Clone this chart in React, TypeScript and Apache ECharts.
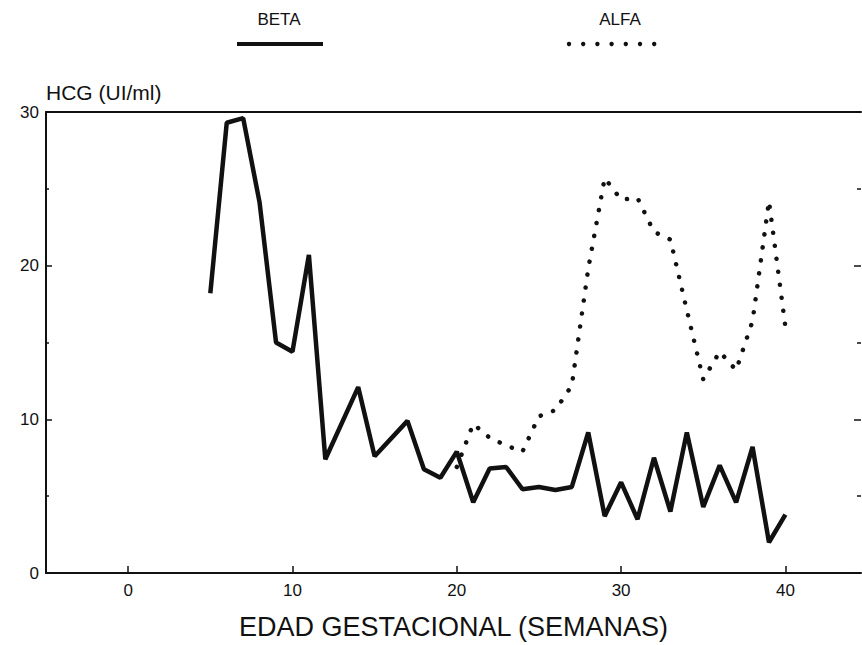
import React, { useEffect, useRef } from "react";
import * as echarts from "echarts";

// ---- data ----
const betaWeeks = [5, 6, 7, 8, 9, 10, 11, 12, 14, 15, 17, 18, 19, 20, 21, 22, 23, 24, 25, 26, 27, 28, 29, 30, 31, 32, 33, 34, 35, 36, 37, 38, 39, 40];
const betaValues = [18.2, 29.3, 29.6, 24.1, 15.0, 14.4, 20.7, 7.4, 12.1, 7.6, 9.9, 6.75, 6.2, 7.9, 4.6, 6.8, 6.9, 5.45, 5.6, 5.4, 5.6, 9.15, 3.7, 5.9, 3.5, 7.5, 4.0, 9.15, 4.3, 7.0, 4.6, 8.2, 2.0, 3.8];

const alfaWeeks = [20, 21, 22, 23, 24, 25, 26, 27, 28, 29, 30, 31, 32, 33, 34, 35, 36, 37, 38, 39, 40];
const alfaValues = [6.9, 9.7, 8.8, 8.3, 7.9, 10.2, 10.6, 12.2, 19.8, 25.7, 24.3, 24.4, 22.2, 21.7, 17.1, 12.6, 14.4, 13.2, 16.4, 24.2, 16.0];

const xTickValues = [0, 10, 20, 30, 40];

const xTitle = "EDAD GESTACIONAL (SEMANAS)";
const yTitle = "HCG (UI/ml)";
const legendBeta = "BETA";
const legendAlfa = "ALFA";

const FONT = "Liberation Sans, Arial, sans-serif";
const INK = "#111";

export default function App() {
  const ref = useRef<HTMLDivElement>(null);

  useEffect(() => {
    if (!ref.current) return;
    const chart = echarts.init(ref.current, undefined, { renderer: "svg" });

    const solid = (width: number) => ({ color: INK, width, type: "solid" as const });

    const legendDots = [0, 1, 2, 3, 4, 5, 6].map((i) => ({
      type: "circle",
      shape: { cx: 569 + i * 14.2, cy: 44, r: 2.2 },
      style: { fill: INK },
    }));

    chart.setOption({
      animation: false,
      grid: { left: 46, right: 1, top: 112, bottom: 71 },
      xAxis: [
        {
          type: "value",
          min: -5,
          max: 44.6,
          position: "bottom",
          splitLine: { show: false },
          axisLine: { show: true, onZero: false, lineStyle: solid(2) },
          axisTick: { show: true, inside: true, length: 7, customValues: xTickValues, lineStyle: solid(1.5) },
          axisLabel: { show: true, customValues: xTickValues, margin: 9, color: INK, fontFamily: FONT, fontSize: 17 },
          name: xTitle,
          nameLocation: "middle",
          nameGap: 40,
          nameTextStyle: { color: INK, fontFamily: FONT, fontSize: 27, verticalAlign: "top" },
        },
        {
          type: "value",
          min: -5,
          max: 44.6,
          position: "top",
          splitLine: { show: false },
          axisLine: { show: true, onZero: false, lineStyle: solid(2) },
          axisTick: { show: false },
          axisLabel: { show: false },
        },
      ],
      yAxis: [
        {
          type: "value",
          min: 0,
          max: 30,
          interval: 10,
          position: "left",
          splitLine: { show: false },
          axisLine: { show: true, onZero: false, lineStyle: solid(2) },
          axisTick: { show: true, inside: true, length: 6, lineStyle: solid(1.5) },
          minorTick: { show: true, splitNumber: 2, length: 3, lineStyle: solid(1.5) },
          axisLabel: { show: true, margin: 7, color: INK, fontFamily: FONT, fontSize: 17 },
          name: yTitle,
          nameLocation: "end",
          nameGap: 20,
          nameTextStyle: { color: INK, fontFamily: FONT, fontSize: 21, align: "left", verticalAlign: "middle" },
        },
        {
          type: "value",
          min: 0,
          max: 30,
          interval: 10,
          position: "right",
          splitLine: { show: false },
          axisLine: { show: false, onZero: false },
          axisTick: { show: true, inside: true, length: 7, lineStyle: solid(1.5) },
          minorTick: { show: true, splitNumber: 2, length: 4, lineStyle: solid(1.5) },
          axisLabel: { show: false },
        },
      ],
      series: [
        {
          name: legendBeta,
          type: "line",
          xAxisIndex: 0,
          yAxisIndex: 0,
          symbol: "none",
          data: betaWeeks.map((w, i) => [w, betaValues[i]]),
          lineStyle: { color: INK, width: 4.5 },
        },
        {
          name: legendAlfa,
          type: "line",
          xAxisIndex: 0,
          yAxisIndex: 0,
          symbol: "none",
          data: alfaWeeks.map((w, i) => [w, alfaValues[i]]),
          lineStyle: { color: INK, width: 4.5, type: [0.1, 13], cap: "round" },
        },
      ],
      graphic: [
        {
          type: "text",
          x: 279,
          y: 19,
          style: { text: legendBeta, fill: INK, font: `17px ${FONT}`, textAlign: "center", textVerticalAlign: "middle" },
        },
        {
          type: "rect",
          shape: { x: 237, y: 42, width: 86, height: 4 },
          style: { fill: INK },
        },
        {
          type: "text",
          x: 620,
          y: 19,
          style: { text: legendAlfa, fill: INK, font: `17px ${FONT}`, textAlign: "center", textVerticalAlign: "middle" },
        },
        ...legendDots,
      ],
    });

    return () => chart.dispose();
  }, []);

  return <div ref={ref} style={{ position: "absolute", left: 0, top: 0, width: 862, height: 645 }} />;
}
